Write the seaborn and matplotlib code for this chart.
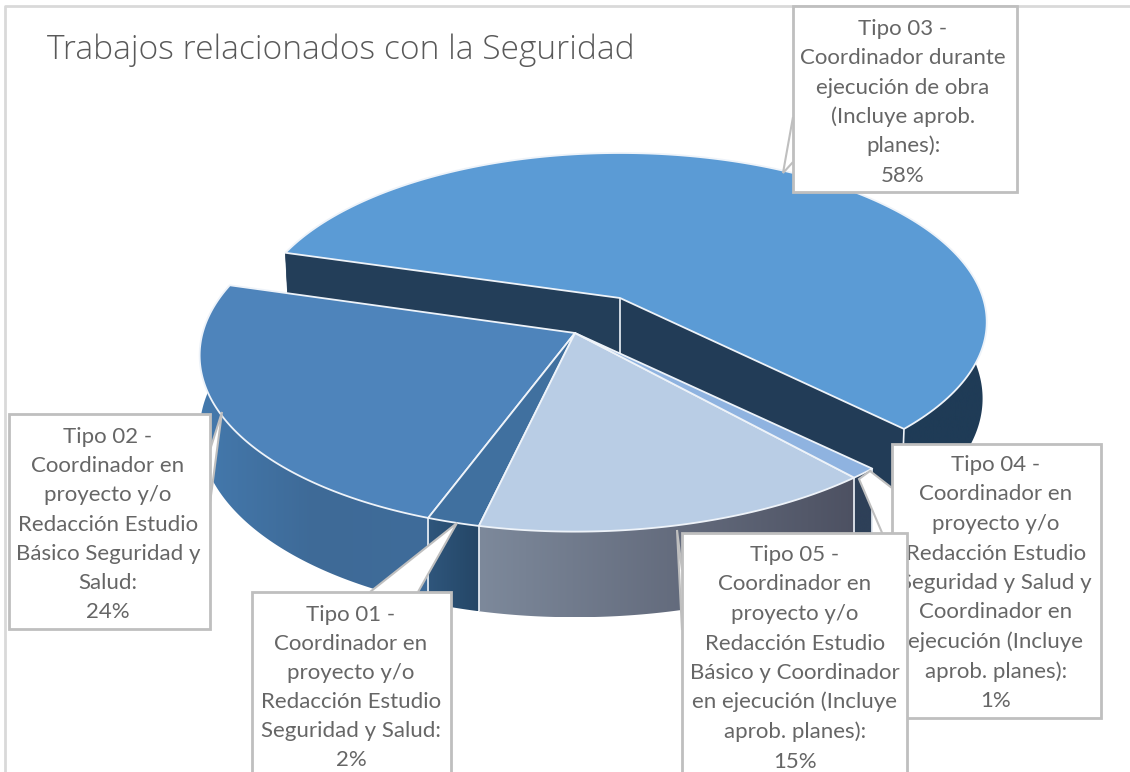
import numpy as np
import matplotlib
matplotlib.use("Agg")
import matplotlib.pyplot as plt
import seaborn as sns
from matplotlib.patches import Polygon, Rectangle

# --- DATA ---
tipos = ["Tipo 01", "Tipo 02", "Tipo 03", "Tipo 04", "Tipo 05"]
valores = [2, 24, 58, 1, 15]
titulo = "Trabajos relacionados con la Seguridad"
textos = {
    "Tipo 01": ["Tipo 01 -", "Coordinador en", "proyecto y/o", "Redacción Estudio",
                "Seguridad y Salud:", "2%"],
    "Tipo 02": ["Tipo 02 -", "Coordinador en", "proyecto y/o", "Redacción Estudio",
                "Básico Seguridad y", "Salud:", "24%"],
    "Tipo 03": ["Tipo 03 -", "Coordinador durante", "ejecución de obra", "(Incluye aprob.",
                "planes):", "58%"],
    "Tipo 04": ["Tipo 04 -", "Coordinador en", "proyecto y/o", "Redacción Estudio",
                "Seguridad y Salud y", "Coordinador en", "ejecución (Incluye",
                "aprob. planes):", "1%"],
    "Tipo 05": ["Tipo 05 -", "Coordinador en", "proyecto y/o", "Redacción Estudio",
                "Básico y Coordinador", "en ejecución (Incluye", "aprob. planes):", "15%"],
}

# --- LAYOUT ---
START_DEG = 12.9  # clockwise from straight down
HEIGHT = 75
MAIN = dict(ax=575, ay=333, R=380, S=174, k=0.124, s=0.02, zs=0.0)
EXPL = dict(ax=620, ay=298, R=363, S=165.6, k=0.142, s=0.0, zs=0.00015)
TOP_COL = {"Tipo 01": "#40709f", "Tipo 02": "#4e84bb", "Tipo 03": "#5b9bd5",
           "Tipo 04": "#8fb3e0", "Tipo 05": "#b9cde5"}
# wall shading, left to right on the screen
WALL_COL = {"Tipo 01": ["#2f567c", "#244666"], "Tipo 02": ["#4479ad", "#3e6a97", "#3f6c9a"],
            "Tipo 03": ["#1f3b56", "#1f3b56"], "Tipo 04": ["#2e4058", "#2e4058"],
            "Tipo 05": ["#7d899b", "#4d5162"]}
SEAM = "#eef3f9"
GREY = "#bfbfbf"
TXT = "#666666"
# left, top, right, bottom, centre x, first baseline, pitch
BOXES = {
    "Tipo 03": (793, 6, 1017, 192, 903, 35, 29.3),
    "Tipo 02": (9, 414, 210, 629, 108, 443, 29.2),
    "Tipo 01": (252, 592, 451, 790, 351, 621, 29.0),
    "Tipo 04": (892, 444, 1101, 718, 996, 471, 29.5),
    "Tipo 05": (682, 533, 907, 790, 795, 561, 29.5),
}
POINTERS = {
    "Tipo 03": [(793, 117), (783, 173), (793, 162)],
    "Tipo 02": [(210, 450), (222, 412), (210, 503)],
    "Tipo 01": [(370, 592), (457, 523), (418, 592)],
    "Tipo 04": [(892, 488), (870, 471), (859, 479), (892, 556)],
    "Tipo 05": [(682, 570), (677, 530), (682, 630)],
}


def proyectar(deg, g, z=0.0):
    t = np.radians(np.asarray(deg, dtype=float))
    X, Y = -np.sin(t), -np.cos(t)
    w = 1 + g["k"] * Y
    x = g["ax"] + g["R"] * X * (1 + g["s"] * X) * (1 - z * g["zs"]) / w
    return x, g["ay"] - g["S"] * Y / w + z / w


def pared(ax, a0, a1, g, colores, zo):
    # outer wall, clipped gradient so the shading runs along the rim
    angs = np.linspace(a0, a1, 300)
    xa, ya = proyectar(angs, g)
    xb, yb = proyectar(angs, g, HEIGHT)
    pts = np.column_stack([np.r_[xa, xb[::-1]], np.r_[ya, yb[::-1]]])
    borde = Polygon(pts, fc="none", ec="none", zorder=zo)
    ax.add_patch(borde)
    tira = np.array(sns.blend_palette(colores, 256))[None, :, :]
    im = ax.imshow(tira, extent=[pts[:, 0].min(), pts[:, 0].max(), pts[:, 1].max(), pts[:, 1].min()],
                   aspect="auto", zorder=zo)
    im.set_clip_path(borde)


def cara(ax, ang, g, color, zo):
    x, y = proyectar(ang, g)
    x2, y2 = proyectar(ang, g, HEIGHT)
    ax.add_patch(Polygon([(g["ax"], g["ay"]), (x, y), (x2, y2), (g["ax"], g["ay"] + HEIGHT)],
                         fc=color, ec=color, lw=0.5, zorder=zo))


def tapa(ax, a0, a1, g, color, zo):
    angs = np.linspace(a0, a1, 200)
    x, y = proyectar(angs, g)
    pts = np.column_stack([np.r_[g["ax"], x], np.r_[g["ay"], y]])
    ax.add_patch(Polygon(pts, fc=color, ec=SEAM, lw=1.3, joinstyle="round", zorder=zo))


def costura(ax, ang, g, zo):
    x, y = proyectar(ang, g)
    x2, y2 = proyectar(ang, g, HEIGHT)
    ax.plot([x, x2], [y, y2], color=SEAM, lw=1.2, zorder=zo, solid_capstyle="butt")


def main():
    sns.set_theme(style="white")
    fig, ax = plt.subplots(figsize=(11.3, 7.72), dpi=100)
    ax.set_position([0, 0, 1, 1])

    # frame of the pasted chart
    ax.plot([5, 5, 1130], [772, 6, 6], color="#d9d9d9", lw=2, zorder=1)

    limites = START_DEG + 3.6 * np.cumsum([0] + valores)
    rangos = dict(zip(tipos, zip(limites[:-1], limites[1:])))

    # exploded slice first, the rest paints over it
    a0, a1 = rangos["Tipo 03"]
    pared(ax, a0, a1, EXPL, WALL_COL["Tipo 03"], 2)
    cara(ax, a0, EXPL, "#233e59", 3)
    cara(ax, a1, EXPL, "#223c57", 3)
    costura(ax, a1, EXPL, 4)
    ax.plot([EXPL["ax"]] * 2, [EXPL["ay"], EXPL["ay"] + HEIGHT], color=SEAM, lw=1.2, zorder=4)
    tapa(ax, a0, a1, EXPL, TOP_COL["Tipo 03"], 5)

    # walls of the slices that stay in place
    for t in ["Tipo 04", "Tipo 02", "Tipo 01", "Tipo 05"]:
        a0, a1 = rangos[t]
        pared(ax, a0, a1, MAIN, WALL_COL[t], 6)
    for t in ["Tipo 01", "Tipo 02", "Tipo 04", "Tipo 05"]:
        costura(ax, rangos[t][0], MAIN, 7)
    for t in ["Tipo 02", "Tipo 01", "Tipo 05", "Tipo 04"]:
        a0, a1 = rangos[t]
        tapa(ax, a0, a1, MAIN, TOP_COL[t], 8)

    # callouts
    for n, t in enumerate(["Tipo 03", "Tipo 02", "Tipo 01", "Tipo 04", "Tipo 05"]):
        zo = 20 + n
        izq, arr, der, aba, cx, base, paso = BOXES[t]
        ax.add_patch(Polygon(POINTERS[t], fc="white", ec=GREY, lw=1.5, closed=False, zorder=zo))
        ax.add_patch(Rectangle((izq, arr), der - izq, aba - arr, fc="white", ec=GREY, lw=2, zorder=zo))
        for i, linea in enumerate(textos[t]):
            ax.text(cx, base + i * paso, linea, ha="center", va="baseline", family="Lato",
                    fontsize=16, color=TXT, zorder=zo)

    ax.text(47, 59, titulo, ha="left", va="baseline", family="Open Sans", fontsize=24.1,
            fontweight="light", color="#595959", zorder=30)

    ax.set_xlim(0, 1130)
    ax.set_ylim(772, 0)
    ax.axis("off")

    fig.savefig("out.png", dpi=100)


if __name__ == "__main__":
    main()
